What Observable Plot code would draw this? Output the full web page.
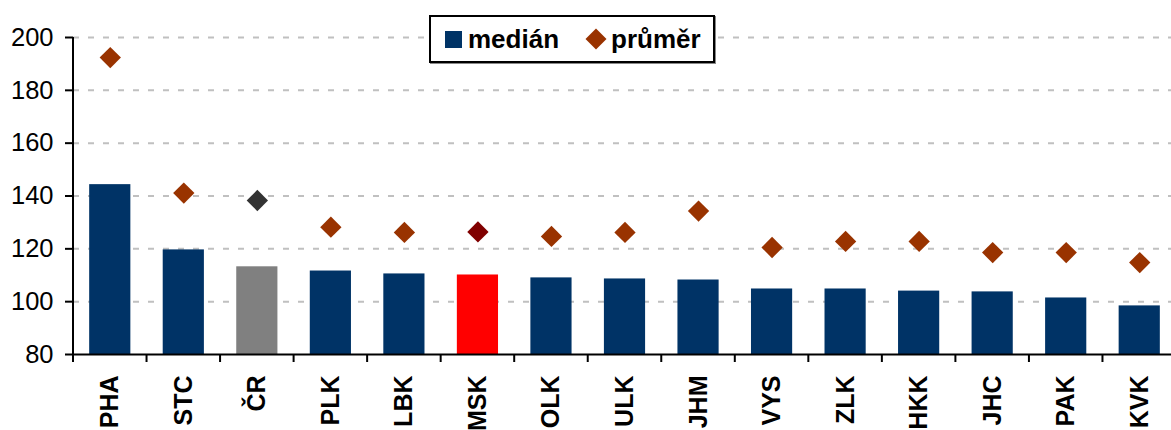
<!DOCTYPE html>
<html>
<head>
<meta charset="utf-8">
<script src="https://cdn.jsdelivr.net/npm/d3@7"></script>
<script src="https://cdn.jsdelivr.net/npm/@observablehq/plot@0.6"></script>
<style>
  html, body { margin: 0; padding: 0; background: #fff; overflow: hidden; }
  #wrap { position: relative; width: 1171px; height: 430px; }
  #overlay { position: absolute; left: 0; top: 0; pointer-events: none; z-index: 2; }
  #legend {
    position: absolute; left: 429px; top: 15px; width: 282px; height: 44px; z-index: 3;
    border: 2px solid #000; background: #fff; box-shadow: 1px 1px 0 #888;
    font-family: "Liberation Sans", Arial, sans-serif; font-weight: bold; font-size: 26px;
    display: flex; align-items: center; color: #000;
  }
  #legend .item { display: flex; align-items: center; }
  #legend svg { display: block; }
</style>
</head>
<body>
<div id="wrap">
  <div id="chart"></div>
  <svg id="overlay" width="1171" height="430"></svg>
  <div id="legend"></div>
</div>
<script>
// ---- data ----
const categories = ["PHA","STC","ČR","PLK","LBK","MSK","OLK","ULK","JHM","VYS","ZLK","HKK","JHC","PAK","KVK"];
const medianValues = [144.3, 119.6, 113.2, 111.6, 110.5, 110.1, 109.0, 108.6, 108.2, 104.8, 104.8, 104.0, 103.7, 101.4, 98.4];
const meanValues   = [192.4, 141.1, 138.3, 128.2, 126.2, 126.4, 124.7, 126.2, 134.3, 120.5, 122.8, 122.8, 118.6, 118.6, 114.8];
const yTicks = [80, 100, 120, 140, 160, 180, 200];
const seriesNames = ["medián", "průměr"];

// ---- styles ----
const NAVY = "#003366", GRAY = "#808080", RED = "#ff0000";
const DIAM = "#993300", DIAM_CR = "#333333", DIAM_MSK = "#800000";
const barColor = c => c === "ČR" ? GRAY : c === "MSK" ? RED : NAVY;
const dotColor = c => c === "ČR" ? DIAM_CR : c === "MSK" ? DIAM_MSK : DIAM;

const data = categories.map((c, i) => ({cat: c, median: medianValues[i], mean: meanValues[i]}));

const width = 1171, height = 430;
const marginLeft = 73, marginRight = -5, marginTop = 37, marginBottom = 76;

const diamond = d3.symbolDiamond2 || {
  draw(ctx, size) { const r = Math.sqrt(size) * 0.62625; ctx.moveTo(0, -r); ctx.lineTo(r, 0); ctx.lineTo(0, r); ctx.lineTo(-r, 0); ctx.closePath(); }
};

const chart = Plot.plot({
  width, height, marginLeft, marginRight, marginTop, marginBottom,
  style: {fontFamily: "'Liberation Sans', Arial, sans-serif", color: "#000", background: "#fff"},
  x: {type: "band", domain: categories, paddingInner: 0.44, paddingOuter: 0.22, round: false, label: null},
  y: {domain: [80, 200], label: null},
  color: {type: "identity"},
  marks: [
    Plot.ruleY(yTicks.filter(t => t > 80), {stroke: "#c0c0c0", strokeWidth: 2, strokeDasharray: "6,9"}),
    Plot.barY(data, {x: "cat", y1: 80, y2: "median", fill: d => barColor(d.cat)}),
    Plot.dot(data, {x: "cat", y: "mean", symbol: diamond, r: 9.6, fill: d => dotColor(d.cat), stroke: "none"}),
    Plot.ruleY([80], {stroke: "#000", strokeWidth: 2}),
    Plot.axisY({ticks: yTicks, tickSize: 8, tickPadding: 12, fontSize: 25.5, strokeWidth: 2, stroke: "#000", fill: "#000", tickFormat: d => String(d)}),
    Plot.axisX({tickSize: 0, tickRotate: -90, tickPadding: 21, fontSize: 25, fontWeight: "bold", fill: "#000"})
  ]
});
document.getElementById("chart").appendChild(chart);

// ---- y-axis line and category boundary ticks, positioned with Plot's own scales ----
const xs = chart.scale("x"), ys = chart.scale("y");
const r0 = xs.range[0], r1 = xs.range[1];
const step = (r1 - r0) / categories.length;
const y0 = ys.apply(80), yTop = ys.apply(200);
const g = d3.select("#overlay").append("g").attr("stroke", "#000").attr("stroke-width", 2);
g.append("line").attr("x1", r0).attr("x2", r0).attr("y1", yTop).attr("y2", y0 + 8);
categories.forEach((c, i) => {
  const x = r0 + i * step;
  g.append("line").attr("x1", x).attr("x2", x).attr("y1", y0).attr("y2", y0 + 8);
});

// ---- legend ----
const legend = document.getElementById("legend");
legend.innerHTML = `
  <div class="item" style="margin-left:14px">
    <svg width="17" height="17"><rect width="17" height="17" fill="${NAVY}"></rect></svg>
    <span style="margin-left:6px">${seriesNames[0]}</span>
  </div>
  <div class="item" style="margin-left:26px">
    <svg width="22" height="22"><path transform="translate(11,11)" d="M0,-10.5L10.5,0L0,10.5L-10.5,0Z" fill="${DIAM}"></path></svg>
    <span style="margin-left:4px">${seriesNames[1]}</span>
  </div>`;
</script>
</body>
</html>
